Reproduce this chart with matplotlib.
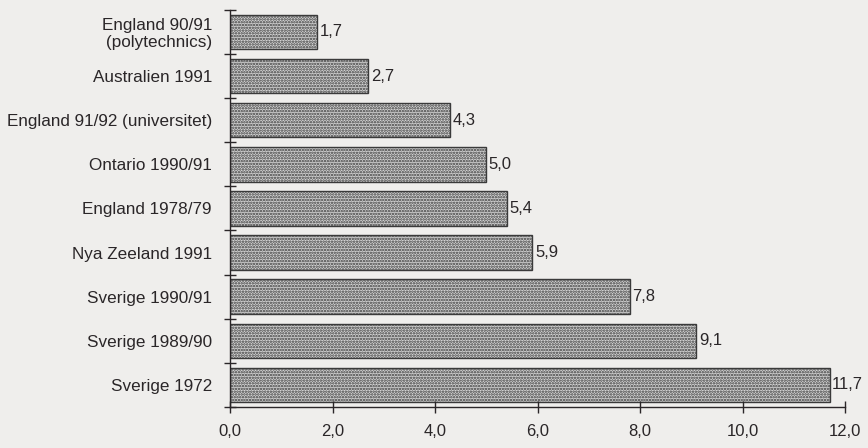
import matplotlib
matplotlib.use("Agg")
import matplotlib.pyplot as plt
import numpy as np

categories = [
    "England 90/91\n(polytechnics)",
    "Australien 1991",
    "England 91/92 (universitet)",
    "Ontario 1990/91",
    "England 1978/79",
    "Nya Zeeland 1991",
    "Sverige 1990/91",
    "Sverige 1989/90",
    "Sverige 1972",
]
values = [1.7, 2.7, 4.3, 5.0, 5.4, 5.9, 7.8, 9.1, 11.7]
xticks = [0, 2, 4, 6, 8, 10, 12]

plt.rcParams["font.family"] = ["Liberation Sans", "DejaVu Sans"]
plt.rcParams["hatch.color"] = "#4a4a4a"
plt.rcParams["hatch.linewidth"] = 1.2

bg = "#efeeec"
ink = "#2a2628"

fig = plt.figure(figsize=(8.68, 4.48), dpi=100, facecolor=bg)
ax = fig.add_axes([0.265, 0.0915, 0.7085, 0.8865], facecolor=bg)

y = np.arange(len(categories))
bars = ax.barh(y, values, height=0.78, color="#d4d4d4", edgecolor="#3a3a3a",
               linewidth=1.0, hatch="......")

for yi, v in zip(y, values):
    ax.text(v + 0.05, yi, f"{v:.1f}".replace(".", ","), va="center", ha="left",
            fontsize=12, color=ink)

ax.set_ylim(len(categories) - 0.5, -0.5)
ax.set_xlim(0, 12)

ax.set_yticks(y)
ax.set_yticklabels(categories, fontsize=12.3, color=ink, linespacing=1.15)
ax.set_yticks(np.arange(-0.5, len(categories), 1.0), minor=True)
ax.tick_params(axis="y", which="major", length=0, pad=13)
ax.tick_params(axis="y", which="minor", length=9, direction="inout", width=1.0, color=ink)

ax.set_xticks(xticks)
ax.set_xticklabels([f"{t:.1f}".replace(".", ",") for t in xticks], fontsize=12, color=ink)
ax.tick_params(axis="x", length=9, direction="inout", width=1.0, color=ink, pad=8)

for s in ["top", "right"]:
    ax.spines[s].set_visible(False)
for s in ["left", "bottom"]:
    ax.spines[s].set_color(ink)
    ax.spines[s].set_linewidth(1.0)
    ax.spines[s].set_zorder(3)

fig.savefig("out.png", dpi=100, facecolor=bg)
